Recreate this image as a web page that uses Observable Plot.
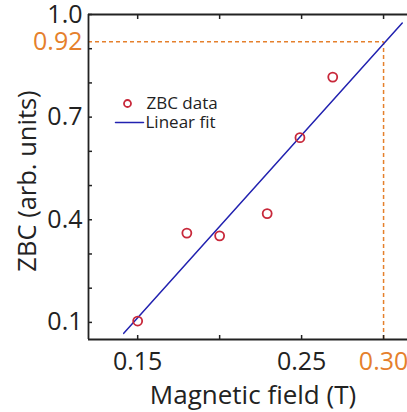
<!DOCTYPE html>
<html>
<head>
<meta charset="utf-8">
<script src="https://cdn.jsdelivr.net/npm/d3@7"></script>
<script src="https://cdn.jsdelivr.net/npm/@observablehq/plot@0.6"></script>
<style>
  html, body { margin: 0; padding: 0; background: #fff; overflow: hidden; }
</style>
</head>
<body>
<div id="chart"></div>
<script>
// ---- data ----
const fieldT = [0.15, 0.18, 0.20, 0.229, 0.249, 0.269];
const zbc    = [0.104, 0.361, 0.353, 0.418, 0.640, 0.817];
const fitField = [0.1415, 0.3114];
const fitZbc   = [0.068, 0.975];
const xTicks = [0.15, 0.20, 0.25, 0.30];
const xTickLabels = ["0.15", "0.25"];
const xLabelValues = [0.15, 0.25];
const yTicks = [0.1, 0.2, 0.3, 0.4, 0.5, 0.6, 0.7, 0.8, 0.9, 1.0];
const yLabelValues = [0.1, 0.4, 0.7, 1.0];
const yTickLabels = ["0.1", "0.4", "0.7", "1.0"];
const markX = 0.30, markXLabel = "0.30";
const markY = 0.92, markYLabel = "0.92";
const legendLabels = ["ZBC data", "Linear fit"];
const xTitle = "Magnetic field (T)";
const yTitle = "ZBC (arb. units)";
const xDomain = [0.12, 0.3146];
const yDomain = [0.05, 1.0];

// ---- styles ----
const orange = "#e5802c", red = "#c8283a", blue = "#2222b0", ink = "#222";
const points = fieldT.map((x, i) => ({x, y: zbc[i]}));
const fit = fitField.map((x, i) => ({x, y: fitZbc[i]}));
const xLab = xLabelValues.map((v, i) => ({v, t: xTickLabels[i]}));
const yLab = yLabelValues.map((v, i) => ({v, t: yTickLabels[i]}));
const lineShape = { draw(ctx, l) { ctx.moveTo(0, 0); ctx.lineTo(0, -l); } };

const chart = Plot.plot({
  width: 407,
  height: 412,
  marginLeft: 88,
  marginRight: 0,
  marginTop: 14,
  marginBottom: 73,
  x: {domain: xDomain, axis: null},
  y: {domain: yDomain, axis: null},
  style: {fontFamily: "'Open Sans', sans-serif", background: "#fff", color: ink},
  marks: [
    // dashed guide lines
    Plot.ruleY([markY], {x1: xDomain[0], x2: markX, stroke: orange, strokeWidth: 1.5, strokeDasharray: "4,3"}),
    Plot.ruleX([markX], {y1: yDomain[0], y2: markY, stroke: orange, strokeWidth: 1.5, strokeDasharray: "4,3"}),
    // fit line
    Plot.line(fit, {x: "x", y: "y", stroke: blue, strokeWidth: 1.5}),
    // data points
    Plot.dot(points, {x: "x", y: "y", r: 4.5, stroke: red, strokeWidth: 1.8, fill: "none"}),
    // axis frame lines
    Plot.ruleX([xDomain[0]], {stroke: ink, strokeWidth: 1.8}),
    Plot.ruleY(yDomain, {stroke: ink, strokeWidth: 1.8}),
    // inward ticks
    Plot.axisY({ticks: yTicks, anchor: "left", tickSize: 4, dx: 4, fill: "none", label: null, stroke: ink, strokeWidth: 1.5}),
    Plot.axisX({ticks: xTicks, anchor: "bottom", tickSize: 4, dy: -4, fill: "none", label: null, stroke: ink, strokeWidth: 1.5}),
    Plot.axisX({ticks: xTicks, anchor: "top", tickSize: 4, dy: 4, fill: "none", label: null, stroke: ink, strokeWidth: 1.5}),
    // tick labels
    Plot.text(yLab, {y: "v", text: "t", frameAnchor: "left", textAnchor: "end", dx: -6, fontSize: 25, fill: ink}),
    Plot.text([markYLabel], {y: [markY], text: d => d, frameAnchor: "left", textAnchor: "end", dx: -6, fontSize: 25, fill: orange}),
    Plot.text(xLab, {x: "v", text: "t", frameAnchor: "bottom", lineAnchor: "top", dy: 13, fontSize: 25, fill: ink}),
    Plot.text([markXLabel], {x: [markX], text: d => d, frameAnchor: "bottom", lineAnchor: "top", dy: 13, fontSize: 25, fill: orange}),
    // axis titles
    Plot.text([xTitle], {frameAnchor: "bottom", textAnchor: "middle", lineAnchor: "bottom", dx: 5, dy: 64, fontSize: 26, fill: ink}),
    Plot.text([yTitle], {frameAnchor: "left", textAnchor: "middle", lineAnchor: "bottom", rotate: -90, dx: -53, dy: 4, fontSize: 25.5, fill: ink}),
    // legend
    Plot.dot([legendLabels[0]], {frameAnchor: "top-left", dx: 39, dy: 89, r: 3.5, stroke: red, strokeWidth: 1.8, fill: "none"}),
    Plot.vector([legendLabels[1]], {frameAnchor: "top-left", dx: 27, dy: 108, rotate: 90, length: 28, anchor: "start", shape: lineShape, stroke: blue, strokeWidth: 1.5}),
    Plot.text([legendLabels[0]], {frameAnchor: "top-left", text: d => d, textAnchor: "start", lineAnchor: "middle", dx: 58, dy: 89, fontSize: 17, fill: ink}),
    Plot.text([legendLabels[1]], {frameAnchor: "top-left", text: d => d, textAnchor: "start", lineAnchor: "middle", dx: 57, dy: 108, fontSize: 17, fill: ink}),
  ]
});
document.getElementById("chart").appendChild(chart);
</script>
</body>
</html>
